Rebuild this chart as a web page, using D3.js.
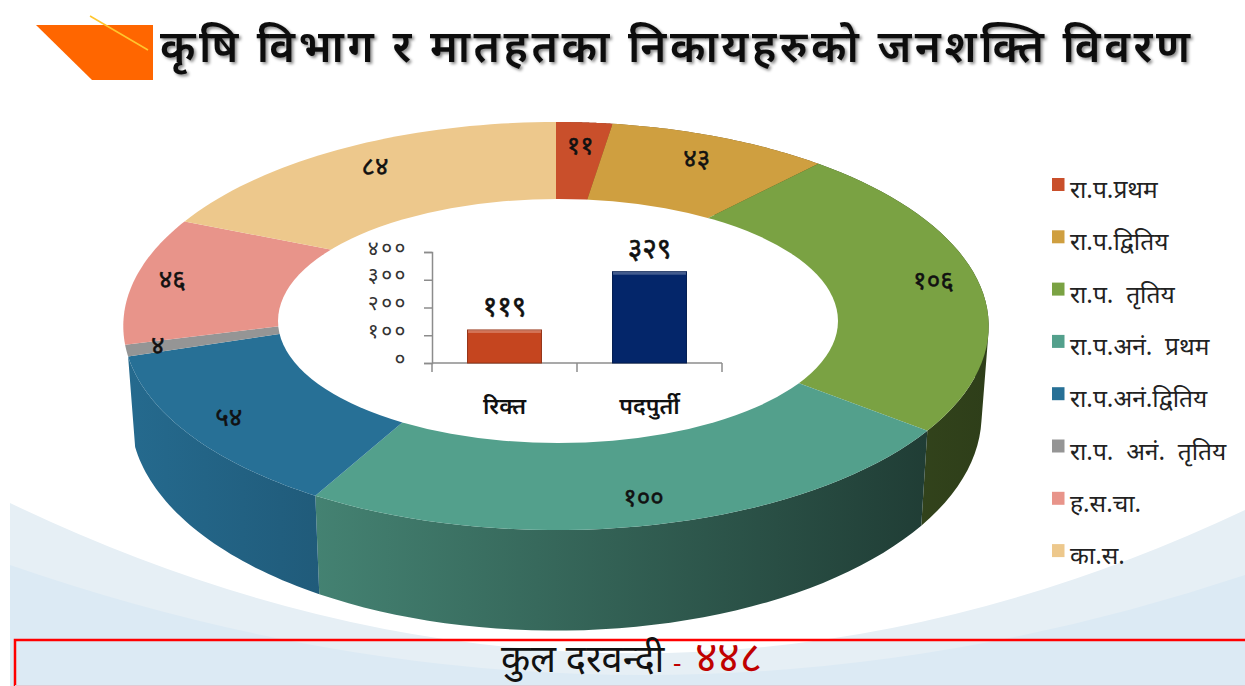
<!DOCTYPE html>
<html lang="en">
<head>
  <meta charset="UTF-8">
  <title>कृषि विभाग जनशक्ति</title>
  <style>
    html, body { margin: 0; padding: 0; background: #fff; overflow: hidden; }
    svg { display: block; }
    text { font-family: "Noto Sans", "Noto Sans Devanagari", "Lohit Devanagari", "DejaVu Sans", sans-serif; fill: #111; }
  </style>
</head>
<body>
  <svg id="svg" width="1245" height="686"></svg>

  <script src="https://cdn.jsdelivr.net/npm/d3@7"></script>
  <script>
    const titleText = 'कृषि विभाग र मातहतका निकायहरुको जनशक्ति विवरण'
    const footerLabel = 'कुल दरवन्दी'
    const footerValue = '४४८'

    // ring
    const posts = ['रा.प.प्रथम', 'रा.प.द्वितिय', 'रा.प.  तृतिय', 'रा.प.अनं.  प्रथम', 'रा.प.अनं.द्वितिय', 'रा.प.  अनं.  तृतिय', 'ह.स.चा.', 'का.स.']
    const postCounts = [11, 43, 106, 100, 54, 4, 46, 84]
    const postColors = ['#c94f2b', '#cf9f40', '#7aa243', '#53a08c', '#277096', '#959595', '#e8948a', '#edc88c']

    // bars in the middle
    const barNames = ['रिक्त', 'पदपुर्ती']
    const barValues = [119, 329]
    const barColors = ['#c5451f', '#04266a']
    const barTicks = [0, 100, 200, 300, 400]

    const nepaliDigits = '०१२३४५६७८९'
    const toNepali = n => String(n).replace(/\d/g, d => nepaliDigits[d])

    const svg = d3.select('#svg')
    const defs = svg.append('defs')

    // background swooshes
    svg.append('path').attr('fill', '#e6eff5')
      .attr('d', 'M10,503 Q630,800 1245,510 L1245,686 L10,686 Z')
    svg.append('path').attr('fill', '#dceaf4')
      .attr('d', 'M10,565 Q630,780 1245,575 L1245,686 L10,686 Z')

    // title bit
    svg.append('path').attr('fill', '#ff6600').attr('d', 'M36,25 L153,25 L153,80 L92,80 Z')
    svg.append('line').attr('x1', 90).attr('y1', 16).attr('x2', 148).attr('y2', 50)
      .attr('stroke', '#ffc62e').attr('stroke-width', 1.5)

    defs.append('filter').attr('id', 'shadow')
      .append('feDropShadow').attr('dx', 2).attr('dy', 2).attr('stdDeviation', 1.5).attr('flood-color', '#000').attr('flood-opacity', 0.45)

    svg.append('text')
      .attr('x', 160).attr('y', 62)
      .attr('font-size', 44).attr('font-weight', 600).attr('filter', 'url(#shadow)')
      .attr('textLength', 1030)
      .text(titleText)

    // perspective projection of a flat disc, angle 0 at twelve o'clock
    const ring = { r: 427, h: 198.7, y: 293, k: 0.162 }
    const floor = { r: 420, h: 210, y: 380, k: 0.162 }
    const project = (plane, a, t = 1) => {
      const X = t * Math.sin(a), Y = t * Math.cos(a), w = 1 + plane.k * Y
      return [556 + plane.r * X / w, plane.y - plane.h * Y / w]
    }
    const sweep = (a0, a1) => d3.range(0, 41).map(i => a0 + (a1 - a0) * i / 40)
    const line = d3.line()

    const arcs = d3.pie().sort(null).value(d => d)(postCounts)
    const shade = d3.scaleLinear().domain([125, 920]).range([0.95, 0.38]).clamp(true)

    // walls first, top face covers whatever is not visible. slices at the back have no wall
    const walls = svg.append('g')
    arcs.forEach((d, i) => {
      if (d.startAngle > Math.PI * 1.38) return
      const angles = sweep(d.startAngle, d.endAngle)
      const top = angles.map(a => project(ring, a))
      const bottom = angles.map(a => project(floor, a))
      const [x0, x1] = d3.extent(top.concat(bottom), p => p[0])
      const base = d3.rgb(postColors[i])
      const tint = x => { const s = shade(x); return d3.rgb(base.r * s, base.g * s, base.b * s) }
      const grad = defs.append('linearGradient').attr('id', `wall${i}`)
        .attr('gradientUnits', 'userSpaceOnUse').attr('x1', x0).attr('x2', x1).attr('y1', 0).attr('y2', 0)
      grad.append('stop').attr('offset', 0).attr('stop-color', tint(x0))
      grad.append('stop').attr('offset', 1).attr('stop-color', tint(x1))
      // one quad per step in a single path, same winding so they add up, the outline then
      // follows the tangent between the two ellipses
      const quads = d3.range(angles.length - 1).map(j => {
        const q = [top[j], top[j + 1], bottom[j + 1], bottom[j]]
        return line(d3.polygonArea(q) < 0 ? q.reverse() : q) + 'Z'
      })
      walls.append('path').attr('d', quads.join('')).attr('fill', `url(#wall${i})`)
    })

    svg.append('g').selectAll('path')
      .data(arcs).enter().append('path')
      .attr('d', d => line([[556, 293]].concat(sweep(d.startAngle, d.endAngle).map(a => project(ring, a)))) + 'Z')
      .attr('fill', (d, i) => postColors[i])

    // the hole is a white oval sitting on the ring
    svg.append('ellipse').attr('cx', 558).attr('cy', 321).attr('rx', 280).attr('ry', 122).attr('fill', '#fff')

    const labelReach = [0.84, 0.84, 0.895, 0.9, 0.9, 0.93, 0.91, 0.85]
    svg.append('g').selectAll('text')
      .data(arcs).enter().append('text')
      .attr('text-anchor', 'middle').attr('font-size', 26)
      .attr('stroke', '#111').attr('stroke-width', 0.5)
      .attr('transform', (d, i) => {
        const p = project(ring, (d.startAngle + d.endAngle) / 2, labelReach[i])
        return `translate(${p[0]},${p[1] + 8})`
      })
      .text(d => toNepali(d.value))

    // bar chart
    const x = d3.scaleBand().domain(barNames).range([432, 722]).paddingInner(0.49).paddingOuter(0.245)
    const y = d3.scaleLinear().domain([0, 400]).range([363, 252])
    const bars = svg.append('g')

    const axisY = bars.append('g').attr('transform', 'translate(432,0)')
      .call(d3.axisLeft(y).tickValues(barTicks).tickSize(8).tickPadding(16).tickFormat(toNepali))
    const axisX = bars.append('g').attr('transform', 'translate(0,363)')
      .call(d3.axisBottom(x).tickValues([]).tickSize(0))
    axisX.select('.domain').attr('d', 'M432,0 H722')
    axisX.selectAll('.edge').data([432, 577, 722]).enter().append('line').attr('class', 'edge')
      .attr('x1', d => d).attr('x2', d => d).attr('y1', 0).attr('y2', 9)
    bars.selectAll('.domain, .tick line, .edge').attr('stroke', '#8c8c8c').attr('stroke-width', 1.5)
    axisY.selectAll('text').attr('font-size', 21).attr('font-family', null).attr('letter-spacing', 2.5).attr('dy', '0.1em').style('fill', '#333')

    bars.selectAll('rect.bar')
      .data(barValues).enter().append('rect').attr('class', 'bar')
      .attr('x', (d, i) => x(barNames[i])).attr('width', x.bandwidth())
      .attr('y', d => y(d)).attr('height', d => y(0) - y(d))
      .attr('fill', (d, i) => barColors[i])
      .attr('stroke', (d, i) => d3.rgb(barColors[i]).darker(0.8)).attr('stroke-width', 1)
    bars.selectAll('rect.bevel')
      .data(barValues).enter().append('rect').attr('class', 'bevel')
      .attr('x', (d, i) => x(barNames[i]) + 0.5).attr('width', x.bandwidth() - 1)
      .attr('y', d => y(d)).attr('height', 3)
      .attr('fill', '#fff').attr('opacity', 0.25)
    bars.selectAll('text.val')
      .data(barValues).enter().append('text').attr('class', 'val')
      .attr('x', (d, i) => x(barNames[i]) + x.bandwidth() / 2).attr('y', d => y(d) - 14)
      .attr('text-anchor', 'middle').attr('font-size', 28).attr('stroke', '#111').attr('stroke-width', 0.6)
      .text(toNepali)
    bars.selectAll('text.name')
      .data(barNames).enter().append('text').attr('class', 'name')
      .attr('x', d => x(d) + x.bandwidth() / 2).attr('y', 414)
      .attr('text-anchor', 'middle').attr('font-size', 23).attr('font-weight', 600)
      .text(d => d)

    // legend
    const legend = svg.append('g').selectAll('g')
      .data(posts).enter().append('g')
      .attr('transform', (d, i) => `translate(1052,${178 + i * 52.3})`)
    legend.append('rect').attr('width', 12.5).attr('height', 13).attr('fill', (d, i) => postColors[i])
    legend.append('text').attr('x', 18).attr('y', 20).attr('font-size', 24.5).style('white-space', 'pre').style('fill', '#222').text(d => d)

    // footer box
    svg.append('path').attr('d', 'M1245,640 H15 V686').attr('fill', 'none').attr('stroke', '#ff0000').attr('stroke-width', 2.5)
    svg.append('line').attr('x1', 15).attr('x2', 1245).attr('y1', 685.5).attr('y2', 685.5).attr('stroke', '#e3c9d3')
    const footer = svg.append('text').attr('x', 501).attr('y', 672).attr('font-size', 38)
    footer.append('tspan').text(footerLabel)
    footer.append('tspan').attr('x', 673).attr('font-size', 26).style('fill', '#c00000').text('-')
    footer.append('tspan').attr('x', 695).attr('font-size', 43).style('fill', '#c00000').text(footerValue)
  </script>
</body>
</html>
